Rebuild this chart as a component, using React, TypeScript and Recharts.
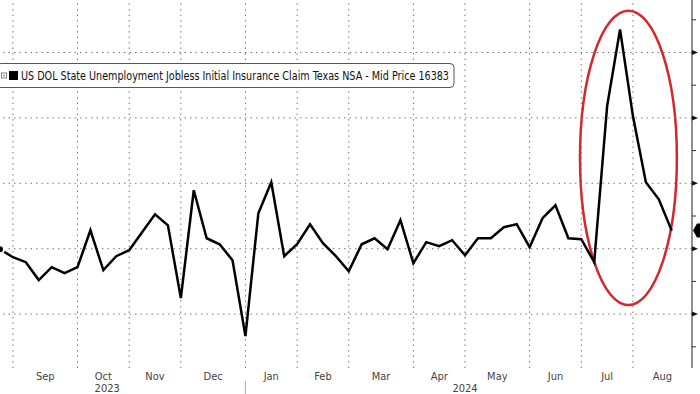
import {
  LineChart,
  Line,
  XAxis,
  YAxis,
  ReferenceLine,
  ReferenceArea,
  ReferenceDot,
} from "recharts";

// weekly Texas initial claims (NSA), first point is the week before Sep
const claims = [
  14960, 14350, 13970, 12600, 13590, 13130, 13590, 16410, 13360, 14430,
  14890, 16260, 17630, 16790, 11220, 19470, 15800, 15340, 14120, 8320,
  17710, 20080, 14430, 15340, 16870, 15420, 14430, 13280, 15340, 15800,
  14960, 17180, 13890, 15500, 15190, 15650, 14500, 15800, 15800, 16640,
  16870, 15120, 17330, 18320, 15800, 15730, 13970, 25900, 31760, 25120,
  20080, 18780, 16383,
];
const firstWeek = -1;
const lastWeek = 52.57;

const monthLabels = ["Sep", "Oct", "Nov", "Dec", "Jan", "Feb", "Mar", "Apr", "May", "Jun", "Jul", "Aug"];
const monthStarts = [0, 5, 9, 13, 18, 22, 26, 31, 35, 40, 44, 48];
const yearLabels = ["2023", "2024"];
const yearCenters = [7.3, 35];
const yearBreak = 18;

const gridValues = [10000, 15000, 20000, 25000, 30000];
const minorValues = [7500, 12500, 17500, 22500, 27500, 32500];
const yDomain = [5880, 34014];
const lastPrice = 16383;
const seriesName = "US DOL State Unemployment Jobless Initial Insurance Claim Texas NSA - Mid Price";

// circled spike (week / value bounds)
const spikeBox = { x1: 43.9, x2: 51.4, y1: 10690, y2: 33200 };

const data = claims.map((v, j) => ({ week: firstWeek + j, claims: v }));
const monthCenters = monthStarts.map(
  (s, j) => (s + (j + 1 < monthStarts.length ? monthStarts[j + 1] : lastWeek)) / 2
);
const yTicks = [...gridValues, ...minorValues].sort((a, b) => a - b);

const FONT = '"Liberation Sans Narrow", "DejaVu Sans Condensed", "Liberation Sans", sans-serif';

const BoundaryTick = (props: any) => {
  const { x, y } = props;
  return <line x1={x} x2={x} y1={y} y2={y + 4} stroke="#333" strokeWidth={1} />;
};

const MonthTick = (props: any) => {
  const { x, y, payload } = props;
  const idx = monthCenters.findIndex((c) => Math.abs(c - payload.value) < 0.01);
  return (
    <text x={x} y={y + 12} textAnchor="middle" fontSize={11} fill="#444" fontFamily={FONT}>
      {monthLabels[idx]}
    </text>
  );
};

const YearTick = (props: any) => {
  const { x, y, payload } = props;
  if (payload.value === yearBreak) {
    return <line x1={x} x2={x} y1={y + 1} y2={y + 14} stroke="#aaa" strokeWidth={1} />;
  }
  const idx = yearCenters.findIndex((c) => Math.abs(c - payload.value) < 0.01);
  return (
    <text x={x} y={y + 12} textAnchor="middle" fontSize={11} fill="#444" fontFamily={FONT}>
      {yearLabels[idx]}
    </text>
  );
};

const YTick = (props: any) => {
  const { x, y, payload } = props;
  if (gridValues.includes(payload.value)) {
    return <polygon points={`${x},${y - 2.5} ${x + 6},${y} ${x},${y + 2.5}`} fill="#111" />;
  }
  return <line x1={x} x2={x + 4} y1={y} y2={y} stroke="#333" strokeWidth={1} />;
};

const LastTag = (props: any) => {
  const { cx, cy } = props;
  return (
    <polygon
      points={`${cx + 1},${cy} ${cx + 5},${cy - 7} ${cx + 9},${cy - 7} ${cx + 9},${cy + 7} ${cx + 5},${cy + 7}`}
      fill="#000"
    />
  );
};

const SpikeEllipse = (props: any) => {
  const { x, y, width, height } = props;
  return (
    <ellipse
      cx={x + width / 2}
      cy={y + height / 2}
      rx={width / 2}
      ry={height / 2}
      fill="none"
      stroke="#d3262e"
      strokeWidth={2.5}
    />
  );
};

const App = () => {
  return (
    <div
      style={{
        position: "absolute",
        left: 0,
        top: 0,
        width: 700,
        height: 394,
        background: "#fff",
        overflow: "hidden",
      }}
    >
      <LineChart width={700} height={394} data={data} margin={{ top: 0, right: 0, bottom: 0, left: 0 }}>
        <XAxis
          xAxisId="b"
          type="number"
          dataKey="week"
          domain={[firstWeek, lastWeek]}
          ticks={monthStarts}
          interval={0}
          height={0}
          tickSize={0}
          tickMargin={0}
          tickLine={false}
          axisLine={{ stroke: "#222" }}
          tick={BoundaryTick}
          allowDataOverflow
        />
        <XAxis
          xAxisId="m"
          type="number"
          dataKey="week"
          domain={[firstWeek, lastWeek]}
          ticks={monthCenters}
          interval={0}
          height={12}
          tickSize={0}
          tickMargin={0}
          tickLine={false}
          axisLine={false}
          tick={MonthTick}
          allowDataOverflow
        />
        <XAxis
          xAxisId="y"
          type="number"
          dataKey="week"
          domain={[firstWeek, lastWeek]}
          ticks={[...yearCenters, yearBreak]}
          interval={0}
          height={14}
          tickSize={0}
          tickMargin={0}
          tickLine={false}
          axisLine={false}
          tick={YearTick}
          allowDataOverflow
        />
        <YAxis
          orientation="right"
          type="number"
          domain={yDomain}
          ticks={yTicks}
          interval={0}
          width={8}
          tickSize={0}
          tickMargin={0}
          tickLine={false}
          axisLine={{ stroke: "#222" }}
          tick={YTick}
          allowDataOverflow
        />
        {gridValues.map((v) => (
          <ReferenceLine key={"h" + v} xAxisId="b" y={v} stroke="#777" strokeDasharray="1.5 4" />
        ))}
        {monthStarts.map((s) => (
          <ReferenceLine key={"v" + s} xAxisId="b" x={s} stroke="#777" strokeDasharray="1.5 4" />
        ))}
        <Line
          xAxisId="b"
          type="linear"
          dataKey="claims"
          stroke="#000"
          strokeWidth={2.5}
          dot={false}
          isAnimationActive={false}
        />
        <ReferenceArea
          xAxisId="b"
          x1={spikeBox.x1}
          x2={spikeBox.x2}
          y1={spikeBox.y1}
          y2={spikeBox.y2}
          ifOverflow="visible"
          shape={SpikeEllipse}
        />
        <ReferenceDot xAxisId="b" x={lastWeek} y={lastPrice} ifOverflow="visible" shape={LastTag} />
      </LineChart>
      <svg
        width={460}
        height={28}
        style={{ position: "absolute", left: 0, top: 62 }}
      >
        <rect x={-3} y={1.5} width={457} height={24} rx={4} fill="#fff" stroke="#555" strokeWidth={1} />
        <rect x={1.5} y={11} width={5} height={5} fill="none" stroke="#666" strokeWidth={0.8} />
        <rect x={3.3} y={12.8} width={1.5} height={1.5} fill="#666" />
        <rect x={9} y={9} width={9} height={9} fill="#000" />
        <text
          x={21}
          y={18}
          fontSize={12}
          fill="#111"
          fontFamily={FONT}
          textLength={428}
          lengthAdjust="spacingAndGlyphs"
        >
          {seriesName + " " + lastPrice}
        </text>
      </svg>
    </div>
  );
};

export default App;
